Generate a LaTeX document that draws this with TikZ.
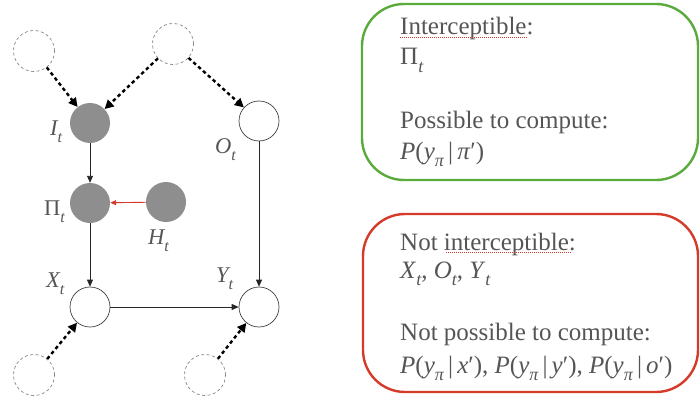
\documentclass[tikz,border=0pt]{standalone}
\usepackage{fontspec}
\setmainfont{Liberation Serif}
\usetikzlibrary{arrows.meta}
\definecolor{txt}{HTML}{555555}
\definecolor{nodefill}{HTML}{8E8E8E}
\definecolor{boxgreen}{HTML}{5BAA3C}
\definecolor{boxred}{HTML}{D63A2A}
\newcommand{\lsub}[1]{\raisebox{-0.33em}{\fontsize{16}{16}\selectfont\itshape #1}}
\newcommand{\bsub}[1]{\raisebox{-0.3em}{\fontsize{18}{18}\selectfont\itshape #1}}
\tikzset{
  var/.style={circle, minimum size=40pt, inner sep=0pt, draw=black!75, line width=0.7pt},
  hidden/.style={circle, minimum size=40pt, inner sep=0pt, draw=none, fill=nodefill},
  exo/.style={circle, minimum size=41pt, inner sep=0pt, draw=black!55, line width=0.6pt, dash pattern=on 3pt off 2.5pt},
  dotarrow/.style={line width=2.4pt, dash pattern=on 3.5pt off 3pt, -{Triangle[length=9pt,width=9pt]}},
  solidarrow/.style={line width=0.9pt, black!85, -{Triangle[length=7pt,width=6pt]}},
  lab/.style={anchor=base west, inner sep=0pt, text=txt, font=\fontsize{22.5}{22.5}\selectfont\itshape},
  boxtxt/.style={anchor=base west, inner sep=0pt, text=txt, font=\fontsize{25}{25}\selectfont},
  infobox/.style={line width=2.4pt, rounded corners=42pt}
}
\begin{document}
\begin{tikzpicture}[x=1pt,y=-1pt]
\useasboundingbox (0,0) rectangle (700,401);
% exogenous dashed circles
\node[exo] (e1) at (34,51) {};
\node[exo] (e2) at (173,44) {};
\node[exo] (e3) at (34,375) {};
\node[exo] (e4) at (205,375) {};
% variables
\node[hidden] (I) at (90,123) {};
\node[hidden] (Pi) at (90,203) {};
\node[hidden] (H) at (166,202) {};
\node[var] (O) at (259,121) {};
\node[var] (X) at (90,307) {};
\node[var] (Y) at (259,307) {};
% labels
\node[lab] (lI) at (50,135) {I\lsub{t}};
\node[lab] (lO) at (215,153) {O\lsub{t}};
\node[lab] (lPi) at (44,215) {\upshape Π\lsub{t}};
\node[lab] (lH) at (148,244) {H\lsub{t}};
\node[lab] (lX) at (46,287) {X\lsub{t}};
\node[lab] (lY) at (216,282) {Y\lsub{t}};
% arrows
\draw[dotarrow] (e1) -- (I);
\draw[dotarrow] (e2) -- (I);
\draw[dotarrow] (e2) -- (O);
\draw[dotarrow] (e3) -- (X);
\draw[dotarrow] (e4) -- (Y);
\draw[solidarrow] (I) -- (Pi);
\draw[solidarrow] (Pi) -- (X);
\draw[solidarrow] (O) -- (Y);
\draw[solidarrow] (X) -- (Y);
\draw[line width=0.9pt, boxred, -{Triangle[length=6pt,width=5pt]}] (H) -- (Pi);
% boxes
\draw[infobox, boxgreen] (362,4) rectangle (698,180);
\draw[infobox, boxred] (363,214) rectangle (698,392);
% green box text
\node[boxtxt] (t1) at (400,35) {Interceptible:};
\node[boxtxt] (t2) at (400,65) {Π\bsub{t}};
\node[boxtxt] (t3) at (400,128) {Possible to compute:};
\node[boxtxt] (t4) at (400,159) {\textit{P}(\textit{y}\bsub{π}\,|\,\textit{π}′)};
\draw[boxred, line width=0.6pt, dash pattern=on 1pt off 1pt] (t1.base west) ++(0,2.5) -- ++(127,0);
% red box text
\node[boxtxt] (r1) at (400,250) {Not interceptible:};
\node[boxtxt] (r2) at (400,278) {\textit{X}\bsub{t}, \textit{O}\bsub{t}, \textit{Y}\bsub{t}};
\node[boxtxt] (r3) at (400,340) {Not possible to compute:};
\node[boxtxt] (r4) at (400,373) {\textit{P}(\textit{y}\bsub{π}\,|\,\textit{x}′), \textit{P}(\textit{y}\bsub{π}\,|\,\textit{y}′), \textit{P}(\textit{y}\bsub{π}\,|\,\textit{o}′)};
\draw[boxred, line width=0.6pt, dash pattern=on 1pt off 1pt] (446,252.5) -- (571,252.5);
\end{tikzpicture}
\end{document}
